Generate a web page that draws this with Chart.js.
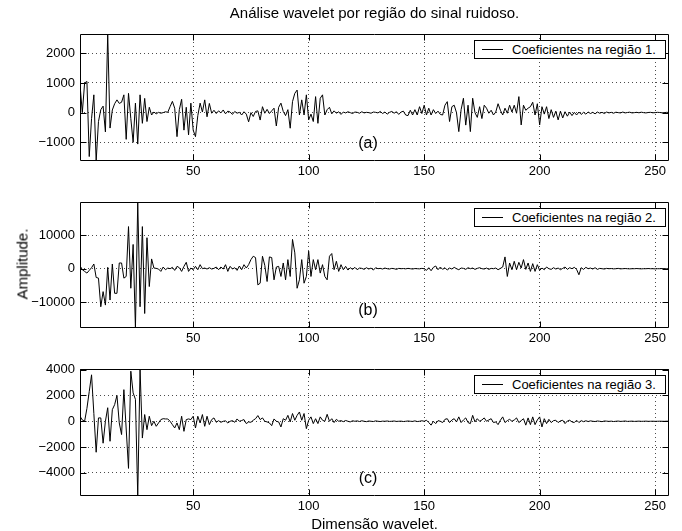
<!DOCTYPE html>
<html>
<head>
<meta charset="utf-8">
<script src="https://cdn.jsdelivr.net/npm/chart.js@4.4.1/dist/chart.umd.min.js"></script>
<style>
  body { margin: 0; background: #fff; }
  #wrap { position: relative; width: 682px; height: 531px; overflow: hidden;
          font-family: "Liberation Sans", Arial, Helvetica, sans-serif; color: #000; }
  #wrap canvas { position: absolute; left: 0; top: 0; }
  .txt { position: absolute; white-space: nowrap; transform: translate(-50%, -50%); }
  .legend { position: absolute; border: 1px solid #000; background: #fff; box-sizing: border-box;
            font-size: 13px; line-height: 17px; height: 19px; }
  .legend .sample { position: absolute; top: 8px; height: 0; border-top: 1px solid #000; }
  .legend .lab { position: absolute; top: 0; }
</style>
</head>
<body>
<div id="wrap">
  <canvas id="c1" width="682" height="531"></canvas>
  <canvas id="c2" width="682" height="531"></canvas>
  <canvas id="c3" width="682" height="531"></canvas>
</div>
<script>
/* Wavelet coefficients per region of the noisy signal, three stacked panels. */
(function () {
  "use strict";

  var X_TICKS = [50, 100, 150, 200, 250];
  var X_MIN = 1, X_MAX = 256;

  var Y_TICKS_A = [-1000, 0, 1000, 2000];
  var Y_TICKS_B = [-10000, 0, 10000];
  var Y_TICKS_C = [-4000, -2000, 0, 2000, 4000];

  var LEGEND_LABELS = ["Coeficientes na região 1.", "Coeficientes na região 2.", "Coeficientes na região 3."];
  var PANEL_TAGS = ["(a)", "(b)", "(c)"];

  // coefficients, index 1..256
  var REGION1 = [
    950, 0, 1000, 1050, -1480, -200, 600, -1630, -300, 100,
    220, -650, 2650, -520, 90, 300, 430, 310, 350, 600,
    -900, 650, -200, -1000, 320, -1060, 600, -360, 480, -300,
    180, -80, 20, -40, 10, -20, 0, 30, 10, 200,
    380, 150, -810, 100, 450, -590, 180, -750, 320, -590,
    -810, -100, 320, 20, 430, -140, 310, -20, 80, -30,
    60, -10, 90, -40, 50, 20, -60, 40, -20, 10,
    -80, 30, -50, -310, 0, -130, 40, 60, -250, 200,
    -20, 110, -30, 60, 150, -450, 180, 320, 40, -100,
    100, -525, 370, 650, 760, -80, 430, -80, 600, -245,
    -50, -300, 540, -360, 485, 600, -80, 100, 180, -40,
    60, -20, 30, -60, 20, -10, 30, 0, -30, 20,
    10, -20, 30, -10, 10, 0, -20, 20, 10, -10,
    40, -30, 20, -50, 10, 40, -20, 30, -60, 20,
    50, -80, -100, 80, -80, 100, -80, 200, -30, 250,
    -80, 150, -80, 100, -30, 50, -60, -80, 250, 370,
    -300, 200, 250, 0, -640, 100, 485, -420, 250, -640,
    485, 0, -160, 200, -200, 250, 150, -20, 80, -80,
    20, 300, 80, -80, 150, -20, 250, 20, 250, -20,
    540, -415, 250, 80, 150, 200, 350, -80, 300, -415,
    200, -50, 200, -200, 100, -160, 50, -245, 50, -180,
    30, -120, 20, -100, 10, -80, 20, -60, 10, -50,
    20, -30, 10, -40, 20, -20, 10, -30, 20, -10,
    10, -20, 15, 0, -10, 20, -10, 5, 15, -10,
    0, 10, -5, 15, 0, -10, 5, 10, -5, 0,
    10, 5, -5, 0, 10, 5
  ];

  var REGION2 = [
    900, -300, -800, -1300, -500, 300, 1400, -2600, -2800, -11300,
    -6800, -10800, 400, -9300, 1400, -7300, -7300, 1700, 1700, -2800,
    -2300, 12500, -5800, 7200, -17600, 19800, -11300, 12500, -13300, 9200,
    -5300, 2900, 200, 100, -100, -800, 500, -300, 200, 0,
    400, -500, 700, 300, -800, 700, 1900, -800, 200, -300,
    700, -300, 1200, 0, 200, -100, 300, -100, 100, 500,
    -300, 500, -100, 1200, -800, 700, -100, 300, -500, 800,
    -300, 1200, 200, 1200, 2700, 3700, 3300, -4800, -4300, 3700,
    1000, -3800, 3500, 3300, -3300, 500, 700, -2300, 1700, -3300,
    2700, -2300, 8700, 4700, -5800, -3300, 2700, -4300, -2300, 5200,
    -2300, 2700, -300, 2700, -1300, 1200, -2300, -3300, 3700, 4500,
    -300, 2200, -800, 1200, -300, 700, -400, 300, -200, 400,
    -300, 200, 100, -200, 300, -100, 200, -400, 300, 0,
    100, -100, 200, 0, -100, 100, 0, -200, 100, 0,
    50, -50, 100, 0, -100, 50, 0, -50, 100, 0,
    -500, 300, -600, 400, 800, -300, 500, -200, 300, -400,
    200, -100, 400, 0, -300, 200, 100, -200, 300, 0,
    200, -200, 100, 300, 0, -100, 200, -200, 100, 0,
    200, -300, 100, 500, 3500, -2300, 1700, -300, 2200, -300,
    1900, 200, 2700, -200, 1700, -800, 1500, -800, 1200, -500,
    200, -300, 500, 0, -200, 300, -100, 200, -300, 100,
    500, -200, 300, 0, 400, -200, -1800, 300, -200, 400,
    0, 200, -100, 300, -200, 100, 0, -100, 100, 0,
    50, -50, 0, 100, -50, 0, 50, 0, -50, 0,
    0, 50, 0, -50, 0, 0, 50, 0, 0, -50,
    0, 0, 50, 0, 0, 0
  ];

  var REGION3 = [
    390, 100, 0, 1000, 2300, 3600, 600, -2400, 260, 260,
    -1700, 0, 1050, -1550, 900, 1290, 2000, -130, -1030, 2450,
    -600, -3650, 3880, 2200, 1700, -5790, 4050, -1300, 520, -650,
    390, -340, 0, -390, -130, 130, 200, 180, 180, 0,
    -260, -520, -130, -650, 390, -780, 130, 180, 130, 390,
    -520, 390, -130, 520, -390, 390, -260, 130, 260, -80,
    50, -80, 0, 30, -130, 0, 50, -80, 180, 0,
    60, 130, -180, -50, -80, 80, 200, 440, 130, 260,
    0, -50, -130, -340, 180, 0, -50, -440, 200, 80,
    460, -50, 600, 80, 460, 720, 80, 600, -570, 80,
    340, -180, 200, -180, 340, 80, 0, 540, 0, 200,
    -100, 150, 0, 50, -30, 60, 0, -50, 40, 0,
    30, -20, 40, 0, -30, 20, 0, -20, 30, 0,
    -20, 10, 0, 20, -10, 0, 20, -10, 0, 10,
    -20, 0, 20, 0, -10, 30, -20, 0, 40, 0,
    80, -100, -300, 0, -180, 50, 0, -100, 150, 200,
    -100, 100, 200, -50, 340, -100, 100, 260, -100, -180,
    460, -50, 200, 0, 100, 260, 0, 100, 200, -100,
    -50, -260, 80, 340, -100, 50, 150, 0, 100, 260,
    -100, 50, 200, -300, 260, -260, 340, -260, 100, 340,
    -440, 200, -180, 150, -100, 50, 80, -100, 30, 80,
    -180, 20, 80, -50, -100, 80, -100, 50, -30, 40,
    -20, 30, 0, -20, 20, 0, -30, 20, 10, -10,
    10, -20, 0, 15, -10, 0, 20, -10, 0, 10,
    -10, 0, 10, -5, 0, 10, -5, 0, 5, -5,
    0, 5, 0, -5, 5, 0
  ];

  var FONT = "'Liberation Sans', Arial, Helvetica, sans-serif";
  var W = 682, H = 531;
  var PLOT_LEFT = 80, PLOT_RIGHT = 669;

  // one entry per panel: where its axes box sits
  var panels = [
    { id: "c1", values: REGION1, yTicks: Y_TICKS_A, top: 34, bottom: 161 },
    { id: "c2", values: REGION2, yTicks: Y_TICKS_B, top: 202, bottom: 328 },
    { id: "c3", values: REGION3, yTicks: Y_TICKS_C, top: 369, bottom: 496 }
  ];

  function fmt(v) { return v < 0 ? "\u2212" + Math.abs(v) : String(v); }

  // MATLAB-style box with inward ticks on all four sides
  var framePlugin = {
    id: "frame",
    afterDraw: function (chart) {
      var a = chart.chartArea, c = chart.ctx;
      var xs = chart.scales.x, ys = chart.scales.y;
      var L = Math.round(a.left) + 0.5, R = Math.round(a.right) - 0.5;
      var T = Math.round(a.top) + 0.5, B = Math.round(a.bottom) - 0.5;
      c.save();
      c.strokeStyle = "#000";
      c.lineWidth = 1;
      c.beginPath();
      c.rect(L, T, R - L, B - T);
      X_TICKS.forEach(function (v) {
        var px = Math.round(xs.getPixelForValue(v)) + 0.5;
        c.moveTo(px, B); c.lineTo(px, B - 6);
        c.moveTo(px, T); c.lineTo(px, T + 6);
      });
      chart.options.yTickList.forEach(function (v) {
        var py = Math.round(ys.getPixelForValue(v)) + 0.5;
        c.moveTo(L, py); c.lineTo(L + 6, py);
        c.moveTo(R, py); c.lineTo(R - 6, py);
      });
      c.stroke();
      c.restore();
    }
  };

  function build(p) {
    var pts = p.values.map(function (v, i) { return { x: X_MIN + i, y: v }; });
    var yMin = Math.min.apply(null, p.values), yMax = Math.max.apply(null, p.values);
    var gridOpts = { color: "rgba(0,0,0,0.7)", lineWidth: 1, drawTicks: false };
    var borderOpts = { display: false, dash: [1, 3] };
    return new Chart(document.getElementById(p.id).getContext("2d"), {
      type: "line",
      data: {
        datasets: [{
          data: pts,
          borderColor: "#000",
          borderWidth: 1,
          pointRadius: 0,
          tension: 0,
          fill: false
        }]
      },
      options: {
        responsive: false,
        animation: false,
        events: [],
        yTickList: p.yTicks,
        layout: { padding: { top: p.top, left: 0, right: W - PLOT_RIGHT, bottom: H - p.bottom - 20 } },
        plugins: { legend: { display: false }, tooltip: { enabled: false }, title: { display: false } },
        scales: {
          x: {
            type: "linear", min: X_MIN, max: X_MAX,
            afterBuildTicks: function (s) { s.ticks = X_TICKS.map(function (v) { return { value: v }; }); },
            afterFit: function (s) { s.height = 20; },
            grid: gridOpts, border: borderOpts,
            ticks: { color: "#000", font: { family: FONT, size: 13 }, padding: 3, maxRotation: 0, autoSkip: false }
          },
          y: {
            type: "linear", min: yMin, max: yMax,
            afterBuildTicks: function (s) { s.ticks = p.yTicks.map(function (v) { return { value: v }; }); },
            afterFit: function (s) { s.width = PLOT_LEFT; },
            grid: gridOpts, border: borderOpts,
            ticks: { color: "#000", font: { family: FONT, size: 13 }, padding: 5, callback: fmt }
          }
        }
      },
      plugins: [framePlugin]
    });
  }

  panels.forEach(build);

  // text: title, axis labels, panel tags, legends
  var wrap = document.getElementById("wrap");
  function addText(str, x, y, size, rotate) {
    var d = document.createElement("div");
    d.className = "txt";
    d.textContent = str;
    d.style.left = x + "px";
    d.style.top = y + "px";
    d.style.fontSize = size + "px";
    if (rotate) d.style.transform = "translate(-50%, -50%) rotate(-90deg)";
    wrap.appendChild(d);
  }
  var midX = (PLOT_LEFT + PLOT_RIGHT) / 2;
  addText("Análise wavelet por região do sinal ruidoso.", midX, 12, 15);
  addText("Dimensão wavelet.", midX, 523, 15);
  addText("Amplitude.", 22, 264, 15, true);

  panels.forEach(function (p, i) {
    addText(PANEL_TAGS[i], 368, p.bottom - 18, 16);
    var lg = document.createElement("div");
    lg.className = "legend";
    lg.style.left = "474px";
    lg.style.top = (p.top + 6) + "px";
    lg.style.width = "192px";
    var s = document.createElement("div");
    s.className = "sample";
    s.style.left = "7px"; s.style.width = "21px";
    var t = document.createElement("div");
    t.className = "lab";
    t.style.left = "37px";
    t.textContent = LEGEND_LABELS[i];
    lg.appendChild(s); lg.appendChild(t);
    wrap.appendChild(lg);
  });
})();
</script>
</body>
</html>
